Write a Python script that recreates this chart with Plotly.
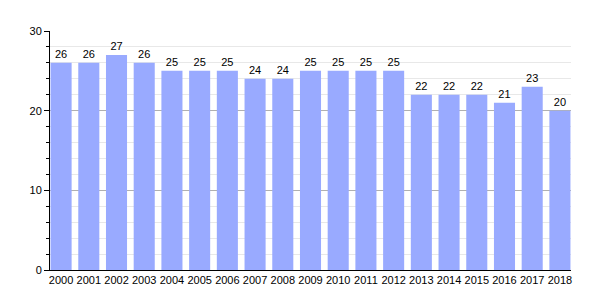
import plotly.graph_objects as go

years = [str(y) for y in range(2000, 2019)]
values = [26, 26, 27, 26, 25, 25, 25, 24, 24, 25, 25, 25, 25, 22, 22, 22, 21, 23, 20]

fig = go.Figure(go.Bar(
    x=years, y=values,
    marker=dict(color="#99AAFF", line=dict(width=0)),
    text=[str(v) for v in values], textposition="outside",
    textfont=dict(family="Liberation Sans, Arial", size=11, color="#000"),
    cliponaxis=False,
))

gap = 0.24
fig.update_layout(
    template="none",
    width=600, height=300,
    margin=dict(l=50, r=29, t=31, b=30),
    plot_bgcolor="white", paper_bgcolor="white",
    bargap=gap,
    showlegend=False,
    font=dict(family="Liberation Sans, Arial", size=11, color="#000"),
    xaxis=dict(type="category", showline=True, linecolor="#000", linewidth=1,
               range=[-0.5 + gap / 2 - 0.02, len(years) - 0.5 - gap / 2 + 0.02],
               ticks="", tickfont=dict(size=11, color="#000"), showgrid=False,
               zeroline=False),
    yaxis=dict(range=[0, 30], dtick=10, showline=True, linecolor="#000", linewidth=1,
               ticks="outside", ticklen=5, tickcolor="#000",
               showgrid=True, gridcolor="#b0b0b0", gridwidth=1,
               zeroline=False, tickfont=dict(size=11, color="#000"),
               minor=dict(dtick=2, showgrid=True, gridcolor="#e8e8e8",
                          ticks="outside", ticklen=3, tickcolor="#000")),
)

fig.write_html("out.html")
